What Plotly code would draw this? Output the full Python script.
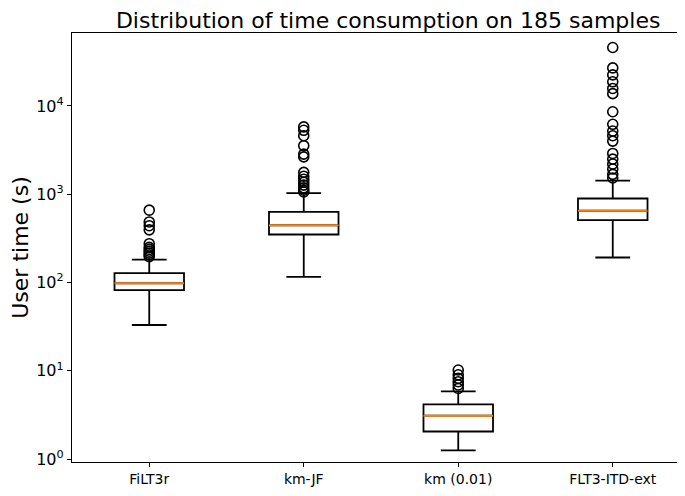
import plotly.graph_objects as go

categories = ["FiLT3r", "km-JF", "km (0.01)", "FLT3-ITD-ext"]
positions = [1, 2, 3, 4]

lower_whisker = [33, 116, 1.25, 192]
q1 = [82, 350, 2.05, 510]
median = [98, 445, 3.1, 650]
q3 = [128, 632, 4.15, 895]
upper_whisker = [182, 1030, 5.85, 1430]

outliers_filt3r = [196, 205, 215, 226, 237, 250, 275, 395, 440, 485, 660]
outliers_kmjf = [5800, 5300, 4600, 3550, 2850, 2650, 1770, 1600, 1480, 1370, 1270, 1180, 1110, 1060]
outliers_km001 = [6.3, 6.9, 7.5, 8.2, 9.0, 10.2]
outliers_flt3 = [46000, 27000, 22500, 18800, 15800, 13800, 8600, 6200, 5200, 4600, 4000,
                 2900, 2500, 2200, 1930, 1680, 1530]
outliers = [outliers_filt3r, outliers_kmjf, outliers_km001, outliers_flt3]

ytick_vals = [1, 10, 100, 1000, 10000]
ytick_text = ["10<sup>0</sup>", "10<sup>1</sup>", "10<sup>2</sup>", "10<sup>3</sup>", "10<sup>4</sup>"]

box_width = 0.45
fig = go.Figure()
for i, p in enumerate(positions):
    fig.add_trace(go.Box(
        x=[p], q1=[q1[i]], median=[median[i]], q3=[q3[i]],
        lowerfence=[lower_whisker[i]], upperfence=[upper_whisker[i]],
        width=box_width, whiskerwidth=0.5, fillcolor="white",
        line=dict(color="black", width=1.8), boxpoints=False,
        hoverinfo="skip", showlegend=False))
    fig.add_trace(go.Scatter(
        x=[p - box_width / 2, p + box_width / 2], y=[median[i], median[i]],
        mode="lines", line=dict(color="#ff7f0e", width=2),
        hoverinfo="skip", showlegend=False))
    fig.add_trace(go.Scatter(
        x=[p] * len(outliers[i]), y=outliers[i], mode="markers",
        marker=dict(symbol="circle-open", size=10, color="black", line=dict(width=1.6)),
        hoverinfo="skip", showlegend=False))

fig.update_layout(
    width=685, height=496,
    margin=dict(l=64, r=3, t=25, b=42),
    paper_bgcolor="white", plot_bgcolor="white",
    boxmode="overlay",
    font=dict(family="DejaVu Sans", color="black", size=14),
    title=dict(text="Distribution of time consumption on 185 samples",
               x=0.555, xanchor="center", y=0.99, yanchor="top",
               font=dict(size=22, color="black")),
)
fig.update_xaxes(
    range=[0.5, 4.5], tickmode="array", tickvals=positions, ticktext=categories,
    showgrid=False, zeroline=False, showline=True, linecolor="black", linewidth=1.3,
    mirror=True, ticks="outside", ticklen=4, tickcolor="black", tickfont=dict(size=14))
fig.update_yaxes(
    type="log", range=[-0.034, 4.827], tickmode="array", tickvals=ytick_vals, ticktext=ytick_text,
    showgrid=False, zeroline=False, showline=True, linecolor="black", linewidth=1.3,
    mirror=True, ticks="outside", ticklen=4, tickcolor="black", tickfont=dict(size=16),
    title=dict(text="User time (s)", font=dict(size=22), standoff=8))

fig.write_html("out.html")
